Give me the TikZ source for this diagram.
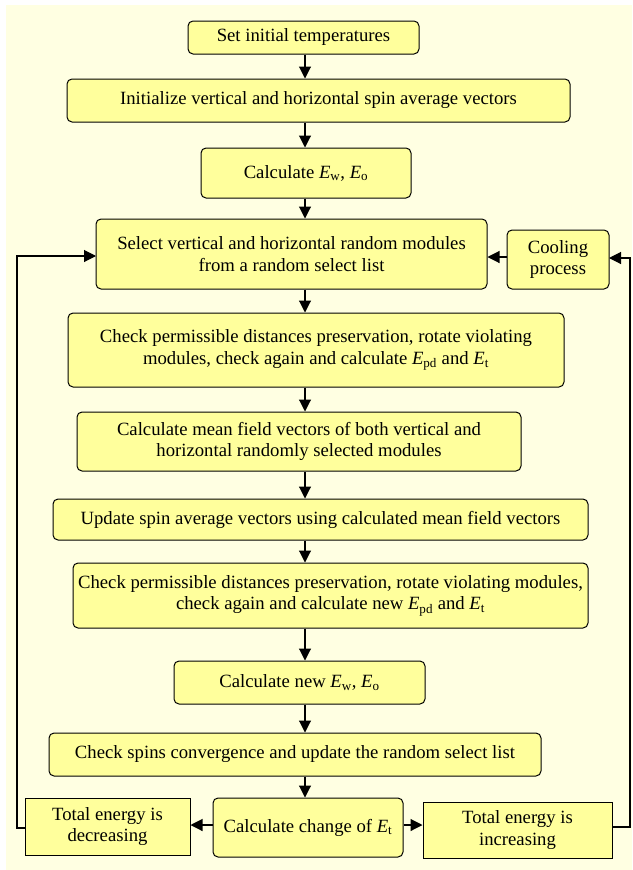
\documentclass[tikz,border=0pt]{standalone}
\usepackage{fontspec}
\setmainfont{Liberation Serif}
\usepackage{tikz}
\usetikzlibrary{arrows.meta}
\definecolor{paper}{HTML}{FFFFE2}
\definecolor{boxfill}{HTML}{FFFF9C}
\tikzstyle{step box}=[draw=black, fill=boxfill, line width=1pt, rounded corners=5pt, align=center, inner sep=0pt, font=\fontsize{18.7}{21.8}\selectfont]
\tikzstyle{flat box} = [step box, rounded corners=0pt]
\tikzstyle{arrow} = [draw, line width=1.1pt, -{Triangle[length=12pt,width=12pt]}, black]
\newcommand{\En}[1]{\textit{E}\textsubscript{#1}}

\begin{document}
\begin{tikzpicture}[x=1pt, y=-1pt]

	\useasboundingbox (0,0) rectangle (632,870);
	\fill[paper] (6,5) rectangle (632,870);

	\coordinate (spine) at (305,0);

	\node[step box, minimum width=231pt, minimum height=33pt] (b_1) at (303.5,37.5) {Set initial temperatures};
	\node[step box, minimum width=503pt, minimum height=43pt] (b_2) at (318.5,100.5) {Initialize vertical and horizontal spin average vectors};
	\node[step box, minimum width=210pt, minimum height=50pt] (b_3) at (306,173) {Calculate \En{w}, \En{o}};
	\node[step box, minimum width=391pt, minimum height=70pt] (b_4) at (291.5,254) {Select vertical and horizontal random modules\\from a random select list};
	\node[step box, minimum width=102pt, minimum height=59pt] (cool) at (558,259.5) {Cooling\\process};
	\node[step box, minimum width=496pt, minimum height=74pt] (b_5) at (316,350) {Check permissible distances preservation, rotate violating\\modules, check again and calculate \En{pd} and \En{t}};
	\node[step box, minimum width=444pt, minimum height=59pt] (b_6) at (299,441.5) {Calculate mean field vectors of both vertical and\\horizontal randomly selected modules};
	\node[step box, minimum width=535pt, minimum height=41pt] (b_7) at (320.5,519.5) {Update spin average vectors using calculated mean field vectors};
	\node[step box, minimum width=515pt, minimum height=65pt] (b_8) at (330.5,595.5) {Check permissible distances preservation, rotate violating modules,\\check again and calculate new \En{pd} and \En{t}};
	\node[step box, minimum width=251pt, minimum height=43pt] (b_9) at (299.5,682.5) {Calculate new \En{w}, \En{o}};
	\node[step box, minimum width=492pt, minimum height=43pt] (b_10) at (295,754.5) {Check spins convergence and update the random select list};
	\node[step box, minimum width=190pt, minimum height=59pt] (b_11) at (308,827.5) {Calculate change of \En{t}};
	\node[flat box, minimum width=165pt, minimum height=57pt] (dec) at (107.5,826.5) {Total energy is\\decreasing};
	\node[flat box, minimum width=189pt, minimum height=56pt] (inc) at (517.5,830) {Total energy is\\increasing};

	% main chain
	\foreach \source/\target in {b_1/b_2, b_2/b_3, b_3/b_4, b_4/b_5, b_5/b_6, b_6/b_7, b_7/b_8, b_8/b_9, b_9/b_10, b_10/b_11}{
		\draw[arrow] (\source.south -| spine) -- (\target.north -| spine);
	}

	\coordinate (left_in) at (96,256);
	\coordinate (right_in) at (609,258);

	\draw[arrow] (b_11.west |- 0,825) -- (dec.east |- 0,825);
	\draw[arrow] (b_11.east |- 0,825) -- (inc.west |- 0,825);

	% feedback loops
	\draw[arrow] (dec.west |- 0,828) -| (17,256) -- (left_in);
	\draw[arrow] (inc.east |- 0,827) -| (630,258) -- (right_in);
	\draw[arrow] (cool.west |- 0,257) -- (b_4.east |- 0,257);

\end{tikzpicture}
\end{document}
